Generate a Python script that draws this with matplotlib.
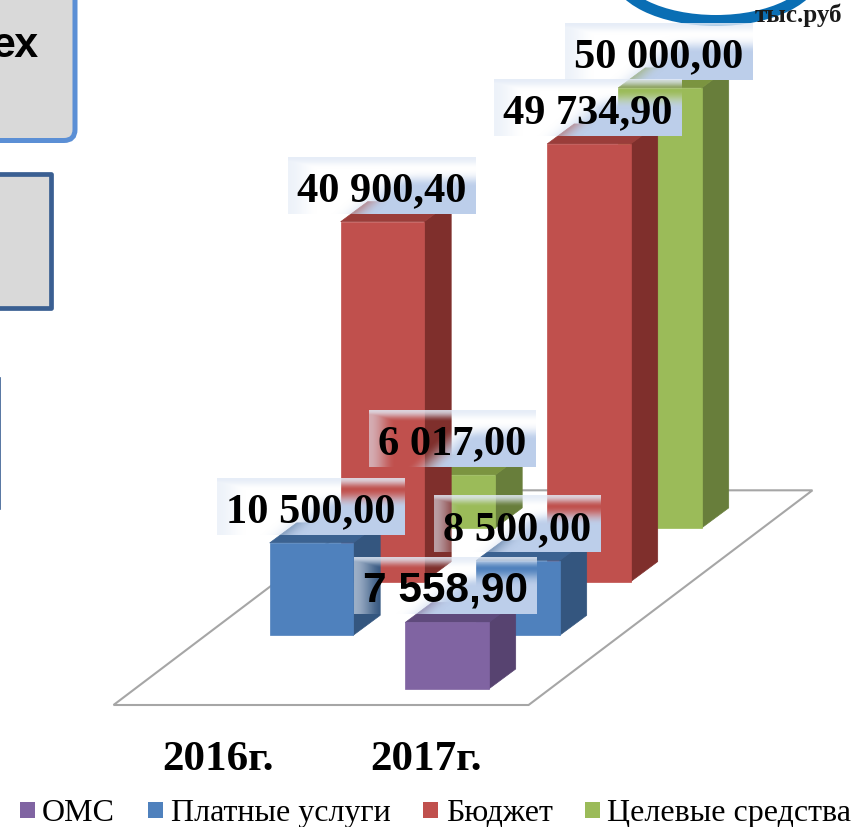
import numpy as np
import matplotlib
matplotlib.use("Agg")
import matplotlib.pyplot as plt
from matplotlib.patches import Polygon, FancyBboxPatch, Ellipse, Rectangle

# data
categories = ['2016г.', '2017г.']
series_names = ['ОМС', 'Платные услуги', 'Бюджет', 'Целевые средства']
oms = [None, 7558.90]
paid = [10500.00, 8500.00]
budget = [40900.40, 49734.90]
target = [6017.00, 50000.00]
series_values = [oms, paid, budget, target]

front_colors = ['#8064A2', '#4F81BD', '#C0504D', '#9BBB59']
top_colors = ['#5F4A7C', '#3B6291', '#9A3D3A', '#7B9440']
side_colors = ['#574370', '#34567F', '#7F2F2C', '#687E3B']

legend_marker_x = [20, 148, 423, 585]
legend_text_x = [42, 171, 446, 607]

# layout of the fake 3d scene, pixels
ORIGIN_X, ORIGIN_Y = 198.7, 690
CAT_STEP = 206.5
ROW_DX, ROW_DY = 71, -53.7
BAR_W = 83.5
DEPTH_DX, DEPTH_DY = 27, -20
PX_PER_UNIT = 0.0088


def project(cat, row, value=0):
    x = ORIGIN_X + cat * CAT_STEP + row * ROW_DX
    y = ORIGIN_Y + row * ROW_DY - value * PX_PER_UNIT
    return x, y


def draw_bar(ax, cat, row, value, zorder):
    x0, base = project(cat, row)
    _, top = project(cat, row, value)
    x1 = x0 + BAR_W
    dx, dy = DEPTH_DX, DEPTH_DY
    edge = dict(linewidth=0.5, zorder=zorder)
    ax.add_patch(Polygon([(x1, base), (x1 + dx, base + dy), (x1 + dx, top + dy), (x1, top)],
                         facecolor=side_colors[row], edgecolor=side_colors[row], **edge))
    ax.add_patch(Polygon([(x0, top), (x1, top), (x1 + dx, top + dy), (x0 + dx, top + dy)],
                         facecolor=top_colors[row], edgecolor=top_colors[row], **edge))
    ax.add_patch(Polygon([(x0, base), (x1, base), (x1, top), (x0, top)],
                         facecolor=front_colors[row], edgecolor=front_colors[row], **edge))


def smooth(a, b, t):
    s = np.clip((t - a) / (b - a), 0, 1)
    return s * s * (3 - 2 * s)


def label_fill():
    # glossy box: pale strip on top, see-through left part, blue lower right
    v, u = np.mgrid[0:1:60j, 0:1:120j]
    diag = smooth(0.22, 0.46, u - 0.36 * (1 - v))
    strip = smooth(0.18, 0.52, v)
    body = diag * strip
    top_edge = 0.85 * (1 - smooth(0.0, 0.2, v))
    left_edge = 0.6 * (1 - smooth(0.0, 0.16, u))
    alpha = np.maximum.reduce([body, top_edge, left_edge])
    pale = np.array([0.89, 0.92, 0.965])
    blue = np.array([0.74, 0.81, 0.92])
    rgba = np.zeros(v.shape + (4,))
    mix = body[..., None]
    rgba[..., :3] = pale * (1 - mix) + blue * mix
    rgba[..., 3] = alpha
    return rgba


def fmt_value(v):
    return f"{v:,.2f}".replace(',', ' ').replace('.', ',')


def draw_label(ax, fig, cat, row, value, zorder):
    x0, _ = project(cat, row)
    _, top = project(cat, row, value)
    cx = x0 + BAR_W / 2 - 1
    bottom = top - 8
    family = 'Liberation Sans' if row == 0 else 'Liberation Serif'
    txt = ax.text(cx, bottom - 13.5, fmt_value(value), ha='center', va='baseline',
                  fontsize=30.5, fontweight='bold', family=family, color='black',
                  zorder=zorder + 1)
    w = txt.get_window_extent(fig.canvas.get_renderer()).width
    ax.imshow(label_fill(), extent=(cx - w / 2 - 9, cx + w / 2 + 9, bottom, bottom - 57),
              aspect='auto', interpolation='bilinear', zorder=zorder)


fig = plt.figure(figsize=(8.56, 8.28), dpi=100)
ax = fig.add_axes([0, 0, 1, 1])
W, H = 856, 828

# side panels cut by the slide crop
ax.add_patch(FancyBboxPatch((-40, -40), 115, 181.5, boxstyle='round,pad=0,rounding_size=11',
                            facecolor='#D9D9D9', edgecolor='#5B8FD5', linewidth=3.6))
ax.add_patch(Rectangle((-40, 174.5), 91.5, 134, facecolor='#D9D9D9', edgecolor='#3A5F92',
                       linewidth=3.4, joinstyle='round'))
ax.plot([0.4, 0.4], [379, 510], color='#3A5F92', linewidth=1.2)
ax.text(39, 57, 'ех', ha='right', va='baseline', fontsize=31, fontweight='bold',
        family='Liberation Sans', color='black')

# round logo at the top
ax.add_patch(Ellipse((716, -28), 200, 99, facecolor='white', edgecolor='#0A6EB4', linewidth=7.9))
ax.text(798, 22, 'тыс.руб', ha='center', va='baseline', fontsize=18, fontweight='bold',
        family='Liberation Serif', color='#1a1a1a')

# floor
floor = [project(-0.31, -0.298), project(1.7, -0.298), project(1.7, 3.7), project(-0.31, 3.7)]
ax.add_patch(Polygon(floor, closed=True, facecolor='white', edgecolor='#A6A6A6',
                     linewidth=1.5, zorder=2))

# bars, back row first
for row in range(3, -1, -1):
    for cat in range(len(categories)):
        if series_values[row][cat] is not None:
            draw_bar(ax, cat, row, series_values[row][cat], zorder=3 + (3 - row))

for row in range(3, -1, -1):
    for cat in range(len(categories)):
        if series_values[row][cat] is not None:
            draw_label(ax, fig, cat, row, series_values[row][cat], zorder=10 + 2 * (3 - row))

# category labels
for cat, name in enumerate(categories):
    x, _ = project(cat, 0)
    ax.text(x + 19.5 + cat * 1.5, 770, name, ha='center', va='baseline', fontsize=31,
            fontweight='bold', family='Liberation Serif', color='black')

# legend
for i, name in enumerate(series_names):
    ax.add_patch(Rectangle((legend_marker_x[i], 803), 15, 16, facecolor=front_colors[i],
                           edgecolor='none'))
    ax.text(legend_text_x[i], 821, name, ha='left', va='baseline', fontsize=23,
            family='Liberation Serif', color='black')

ax.set_xlim(0, W)
ax.set_ylim(H, 0)
ax.axis('off')

fig.savefig('out.png', dpi=100)
